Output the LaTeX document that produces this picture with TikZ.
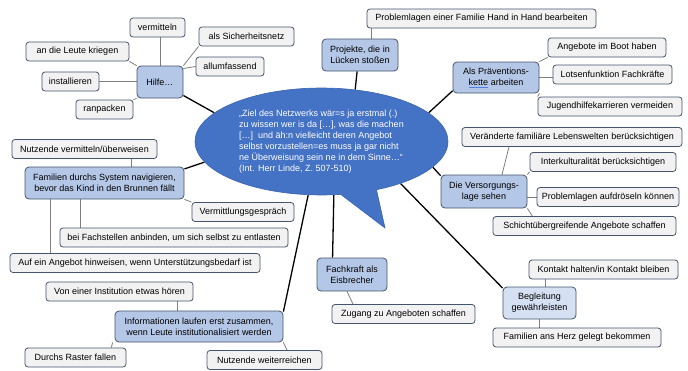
\documentclass[tikz,border=0pt]{standalone}
\usepackage{fontspec}
\setmainfont{Liberation Sans}
\usetikzlibrary{shapes.callouts,calc}
\definecolor{leaffill}{HTML}{F2F2F2}
\definecolor{boxedge}{HTML}{44546A}
\definecolor{topicfill}{HTML}{B4C7E7}
\definecolor{topiclight}{HTML}{D6E0F3}
\definecolor{hubfill}{HTML}{4472C4}
\definecolor{hubedge}{HTML}{3B64AE}
\definecolor{twigline}{HTML}{7F7F7F}
\definecolor{spellblue}{HTML}{4F7FE0}
\pgfdeclarelayer{bg}
\pgfsetlayers{bg,main}

\begin{document}
\begin{tikzpicture}[x=1pt,y=-1pt,
  every node/.style={font=\fontsize{9}{11}\selectfont},
  leaf/.style={draw=boxedge, line width=0.8pt, fill=leaffill, rounded corners=3pt,
    inner sep=0pt, minimum height=19pt},
  topic/.style={draw=boxedge, line width=0.8pt, fill=topicfill, rounded corners=4pt,
    inner sep=0pt, align=center},
  hubline/.style={line width=1.3pt, black},
  twig/.style={line width=0.8pt, twigline},
]
\useasboundingbox (0,0) rectangle (688,370);

% central quotation bubble
\node[ellipse callout, fill=hubfill, draw=hubedge, line width=0.6pt,
  minimum width=253pt, minimum height=107pt, inner sep=0pt,
  callout absolute pointer={(385,228)}, callout pointer arc=17,
  text=white, align=left] (hub) at (321.5,141.5)
  {„Ziel des Netzwerks wär=s ja erstmal (.)\\
   zu wissen wer is da {[}…{]}, was die machen\\
   {[}…{]}\ \ und äh:n vielleicht deren Angebot\\
   selbst vorzustellen=es muss ja gar nicht\\
   {\color{spellblue}\underline{\color{white}ne}} Überweisung sein ne in dem Sinne…“\\
   (Int. Herr Linde, Z. 507-510)};

% topic boxes
\node[topic, minimum width=46pt, minimum height=32pt] (hilfe) at (160,82) {Hilfe…};
\node[topic, minimum width=76pt, minimum height=32pt] (proj) at (360,55) {Projekte, die in\\Lücken stoßen};
\node[topic, minimum width=86pt, minimum height=31pt] (praev) at (496,77.5)
  {Als Präventions-\\{\color{spellblue}\underline{\color{black}kette}} arbeiten};
\node[topic, minimum width=86pt, minimum height=33pt] (vers) at (484,191.5) {Die Versorgungs-\\lage sehen};
\node[topic, minimum width=159pt, minimum height=32pt] (fam) at (104.5,183)
  {Familien durchs System navigieren,\\bevor das Kind in den Brunnen fällt};
\node[topic, minimum width=168pt, minimum height=31pt] (info) at (199,326.5)
  {Informationen laufen erst zusammen,\\wenn Leute institutionalisiert werden};
\node[topic, minimum width=70pt, minimum height=33pt] (fach) at (352,274.5) {Fachkraft als\\Eisbrecher};
\node[topic, fill=topiclight, minimum width=73pt, minimum height=32pt] (begl) at (539.5,303)
  {Begleitung\\gewährleisten};

% leaf boxes
\node[leaf, minimum width=55pt]  (verm)    at (157.5,27.5) {vermitteln};
\node[leaf, minimum width=103pt] (leute)   at (77.5,51.5)  {an die Leute kriegen};
\node[leaf, minimum width=57pt]  (inst)    at (70.5,81.5)  {installieren};
\node[leaf, minimum width=57pt]  (ranp)    at (104.5,109.5) {ranpacken};
\node[leaf, minimum width=95pt]  (sich)    at (246.5,36.5) {als Sicherheitsnetz};
\node[leaf, minimum width=68pt]  (allum)   at (230,66.5)   {allumfassend};
\node[leaf, minimum width=229pt] (prob)    at (481.5,18.5) {Problemlagen einer Familie Hand in Hand bearbeiten};
\node[leaf, minimum width=118pt] (angeb)   at (607,47.5)   {Angebote im Boot haben};
\node[leaf, minimum width=119pt] (lotsen)  at (612.5,74.5) {Lotsenfunktion Fachkräfte};
\node[leaf, minimum width=144pt] (jugend)  at (610,106.5)  {Jugendhilfekarrieren vermeiden};
\node[leaf, minimum width=220pt] (veraend) at (572,137)    {Veränderte familiäre Lebenswelten berücksichtigen};
\node[leaf, minimum width=146pt] (interk)  at (603,162)    {Interkulturalität berücksichtigen};
\node[leaf, minimum width=142pt] (aufd)    at (608,197)    {Problemlagen aufdröseln können};
\node[leaf, minimum width=183pt] (schicht) at (584.5,226)  {Schichtübergreifende Angebote schaffen};
\node[leaf, minimum width=145pt] (nutz)    at (84.5,149)   {Nutzende vermitteln/überweisen};
\node[leaf, minimum width=102pt] (vgespr)  at (243,212)    {Vermittlungsgespräch};
\node[leaf, minimum width=228pt] (anbind)  at (174,237.5)  {bei Fachstellen anbinden, um sich selbst zu entlasten};
\node[leaf, minimum width=250pt] (hinweis) at (135,263)    {Auf ein Angebot hinweisen, wenn Unterstützungsbedarf ist};
\node[leaf, minimum width=147pt] (hoeren)  at (119.5,291.5) {Von einer Institution etwas hören};
\node[leaf, minimum width=101pt] (raster)  at (75.5,357.5) {Durchs Raster fallen};
\node[leaf, minimum width=115pt] (weiter)  at (264.5,360)  {Nutzende weiterreichen};
\node[leaf, minimum width=143pt] (zugang)  at (403.5,314)  {Zugang zu Angeboten schaffen};
\node[leaf, minimum width=149pt] (kontakt) at (603.5,269.5) {Kontakt halten/in Kontakt bleiben};
\node[leaf, minimum width=168pt] (herz)    at (577,337.5)  {Familien ans Herz gelegt bekommen};

\begin{pgfonlayer}{bg}
% spokes from the bubble to the topics
\draw[hubline] (hub.165.3) -- (hilfe.-30);
\draw[hubline] (hub.57.5)  -- (proj.-100);
\draw[hubline] (hub.15.1)  -- (praev.197);
\draw[hubline] (hub.-13.9) -- (vers.160);
\draw[hubline] (hub.-28.1) -- (begl.158);
\draw[hubline] (hub.-77.8) -- (fach.139);
\draw[hubline] (hub.256.8) -- (info.10);
\draw[hubline] (hub.190.3) -- (fam.10.6);

% twigs from the topics to their leaves
\draw[twig] (hilfe.north) -- (hilfe.north |- verm.south);
\draw[twig] (leute.south east) -- (hilfe.north west);
\draw[twig] (inst.east) -- (inst.east -| hilfe.west);
\draw[twig] (ranp.north east) -- (hilfe.south west);
\draw[twig] (hilfe.north east) -- (sich.south west);
\draw[twig] (hilfe.30) -- (allum.west);

\draw[twig] ($(proj.north)+(11,0)$) coordinate (p1) -- (p1 |- prob.south);

\draw[twig] (praev.north east) -- (angeb.south west);
\draw[twig] (praev.east) -- (praev.east -| lotsen.west);
\draw[twig] (praev.south east) -- (jugend.north west);

\draw[twig] ($(vers.north)+(18,0)$) -- ($(veraend.south)+(-63,0)$);
\draw[twig] (vers.north east) -- (interk.south west);
\draw[twig] (aufd.west -| vers.east) -- (aufd.west);
\draw[twig] (vers.south east) -- ($(vers.south east |- schicht.north)+(5,0)$);

\draw[twig] ($(fam.north)+(26.5,0)$) coordinate (f1) -- (f1 |- nutz.south);
\draw[twig] (fam.south east) -- (vgespr.north west);
\draw[twig] ($(fam.south)+(-24.5,0)$) coordinate (f2) -- (f2 |- anbind.north);
\draw[twig] ($(fam.south)+(-54.5,0)$) coordinate (f3) -- (f3 |- hinweis.north);

\draw[twig] ($(info.north)+(-22,0)$) coordinate (i1) -- (i1 |- hoeren.south);
\draw[twig] ($(info.south west)+(-2,0)$) -- ($(raster.north east)+(-15,0)$);
\draw[twig] (info.south east) -- ($(weiter.north)+(22.5,0)$);

\draw[twig] ($(fach.south)+(-5,0)$) -- ($(zugang.north)+(-50.5,0)$);

\draw[twig] ($(begl.north)+(5.5,0)$) coordinate (b1) -- (b1 |- kontakt.south);
\draw[twig] (begl.south) -- (begl.south |- herz.north);
\end{pgfonlayer}
\end{tikzpicture}
\end{document}
